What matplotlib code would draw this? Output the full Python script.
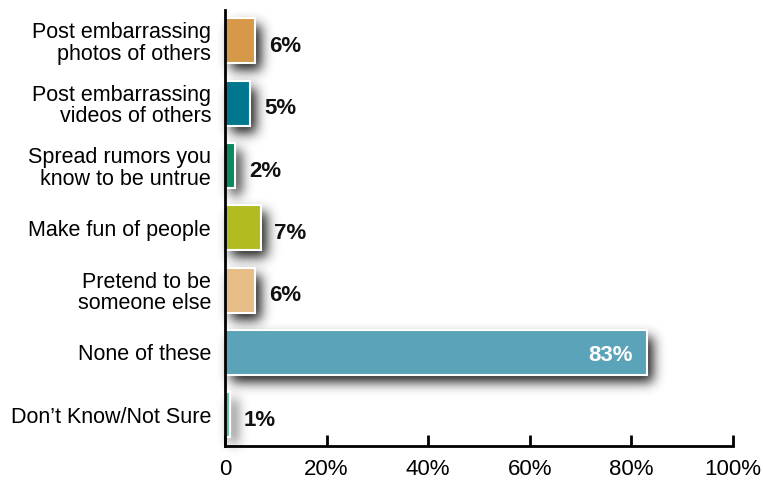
import numpy as np
import matplotlib
matplotlib.use("Agg")
import matplotlib.pyplot as plt
from matplotlib.ticker import FuncFormatter

plt.rcParams['font.family'] = ['Liberation Sans', 'DejaVu Sans']

categories = ["Post embarrassing\nphotos of others",
              "Post embarrassing\nvideos of others",
              "Spread rumors you\nknow to be untrue",
              "Make fun of people",
              "Pretend to be\nsomeone else",
              "None of these",
              "Don\u2019t Know/Not Sure"]
values = [6, 5, 2, 7, 6, 83, 1]
colors = ["#D6994A", "#00768F", "#0A8A5E", "#B2BC22",
          "#E6BD87", "#5BA3B8", "#6CC0A2"]
xticks = [0, 20, 40, 60, 80, 100]


class DropShadow:
    """agg filter: blur the rendered shapes and shift them down-right"""
    def __init__(self, dx=6, dy=7, sigma=6.0, alpha=1.0):
        self.dx, self.dy, self.sigma, self.alpha = dx, dy, sigma, alpha

    def __call__(self, im, dpi):
        r = int(3 * self.sigma)
        pad = r + max(self.dx, self.dy) + 2
        a = np.pad(im[:, :, 3].astype(float), pad, mode="constant")
        k = np.exp(-0.5 * (np.arange(-r, r + 1) / self.sigma) ** 2)
        k /= k.sum()
        for axis in (0, 1):
            out = np.zeros_like(a)
            for i, w in zip(range(-r, r + 1), k):
                out += w * np.roll(a, i, axis=axis)
            a = out
        a = np.roll(a, self.dx, axis=1)
        a = np.roll(a, self.dy, axis=0)
        res = np.zeros(a.shape + (4,), dtype=np.float32)
        res[:, :, :3] = 0.1
        res[:, :, 3] = np.clip(a * self.alpha, 0, 1)
        return res, -pad, -pad


fig = plt.figure(figsize=(7.63, 4.8), dpi=100)
ax = fig.add_axes([0.2949, 0.0708, 0.6658, 0.9092])

y = np.arange(len(categories))
h = 0.72

# shadows first, then the bars on top
shadow = ax.barh(y, values, height=h, color="black", zorder=1)
for p in shadow:
    p.set_agg_filter(DropShadow())
    p.set_rasterized(True)

ax.barh(y, values, height=h, color=colors, edgecolor="white",
        linewidth=1.5, zorder=2)

for yi, v in zip(y, values):
    if v > 50:
        ax.annotate(f"{v}%", (v, yi), xytext=(-10, -2), textcoords="offset points",
                    ha="right", va="center", fontsize=16, fontweight="bold",
                    color="white", zorder=3)
    else:
        ax.annotate(f"{v}%", (v, yi), xytext=(10, -4), textcoords="offset points",
                    ha="left", va="center", fontsize=16, fontweight="bold",
                    color="#111111", zorder=3)

ax.set_xlim(0, 100)
ax.set_ylim(len(categories) - 0.5, -0.5)
ax.set_xticks(xticks)
ax.xaxis.set_major_formatter(FuncFormatter(lambda v, _: "0" if v == 0 else f"{v:.0f}%"))
ax.set_yticks(y)
ax.set_yticklabels(categories, fontsize=15.5, ha="right", multialignment="right",
                   linespacing=1.05)

for s in ("top", "right"):
    ax.spines[s].set_visible(False)
for s in ("left", "bottom"):
    ax.spines[s].set_linewidth(2)
    ax.spines[s].set_zorder(4)

ax.tick_params(axis="x", direction="in", length=8, width=2, labelsize=16, pad=9)
ax.tick_params(axis="y", length=0, pad=10)

fig.savefig("out.png", dpi=100)
